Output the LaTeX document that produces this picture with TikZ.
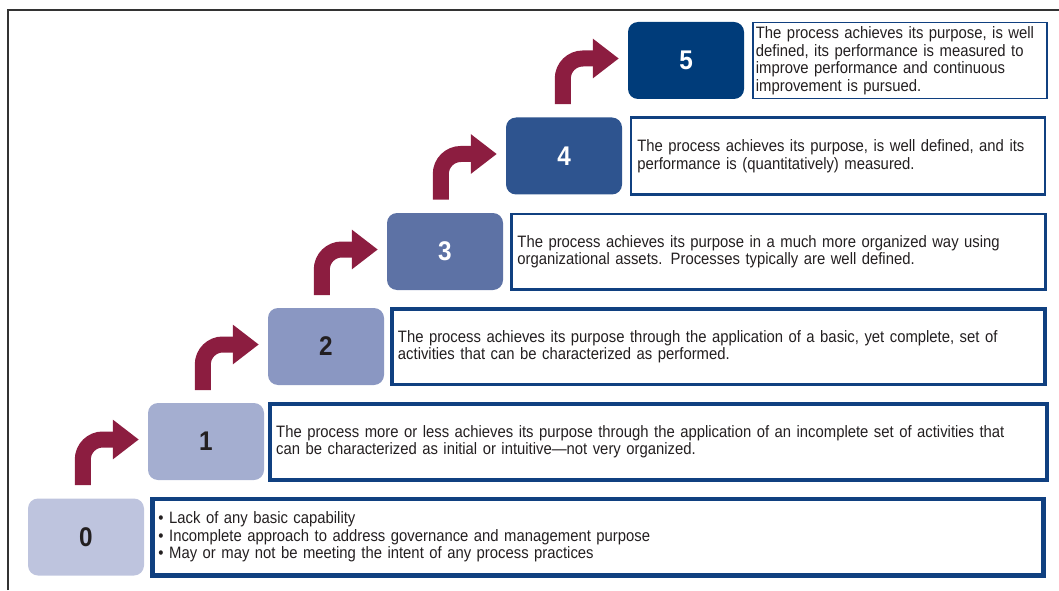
\documentclass[tikz,border=0pt]{standalone}
\usepackage{fontspec}
\setmainfont{Liberation Sans}[FakeStretch=0.9]
\usepackage{xcolor}
\usetikzlibrary{positioning,arrows.meta}

\definecolor{lvlzero}{RGB}{190,196,222}
\definecolor{lvlone}{RGB}{164,174,208}
\definecolor{lvltwo}{RGB}{138,151,194}
\definecolor{lvlthree}{RGB}{93,114,165}
\definecolor{lvlfour}{RGB}{46,84,143}
\definecolor{lvlfive}{RGB}{0,60,122}
\definecolor{frameblue}{RGB}{16,64,128}
\definecolor{riserred}{RGB}{140,29,64}
\definecolor{inkgray}{RGB}{35,31,32}

\tikzset{
  level/.style={rounded corners=10pt, minimum width=116pt, minimum height=77pt,
    font=\fontsize{27}{27}\selectfont\bfseries},
  desc/.style={draw=frameblue, align=left, inner xsep=6pt, text=inkgray,
    font=\fontsize{16.5}{17.5}\selectfont},
  riser/.style={riserred, line width=16pt, rounded corners=20pt, shorten >=9pt,
    -{Triangle[length=26pt,width=38pt]}}
}

\begin{document}
\begin{tikzpicture}[x=1pt,y=1pt]
        \useasboundingbox (0,0) rectangle (1059,590);
        \draw[black!80, line width=2pt] (8,0) |- (1059,580);

        % steps
        \node[level, fill=lvlzero, text=inkgray] (s0) at (86,53) {0};
        \node[level, fill=lvlone, text=inkgray] (s1) at (206,148.5) {1};
        \node[level, fill=lvltwo, text=inkgray] (s2) at (326,243.5) {2};
        \node[level, fill=lvlthree, text=white] (s3) at (445,338.5) {3};
        \node[level, fill=lvlfour, text=white] (s4) at (564,434) {4};
        \node[level, fill=lvlfive, text=white] (s5) at (686,529.5) {5};

        % descriptions
        \node[desc, line width=4.5pt, text width=879pt, minimum height=76.5pt, right=6pt of s0] (d0)
            {\textbullet\ Lack of any basic capability\\
             \textbullet\ Incomplete approach to address governance and management purpose\\
             \textbullet\ May or may not be meeting the intent of any process practices};
        \node[desc, line width=4pt, text width=765pt, minimum height=76pt, right=4pt of s1] (d1)
            {The process more or less achieves its purpose through the application of an incomplete set of activities that\\
             can be characterized as initial or intuitive—not very organized.};
        \node[desc, line width=3.5pt, text width=641pt, minimum height=75.5pt, right=6pt of s2] (d2)
            {The process achieves its purpose through the application of a basic, yet complete, set of\\
             activities that can be characterized as performed.};
        \node[desc, line width=2.5pt, text width=522pt, minimum height=75.5pt, right=7pt of s3] (d3)
            {The process achieves its purpose in a much more organized way using\\
             organizational assets. Processes typically are well defined.};
        \node[desc, line width=2.2pt, text width=402pt, minimum height=77pt, right=8pt of s4] (d4)
            {The process achieves its purpose, is well defined, and its\\
             performance is (quantitatively) measured.};
        \node[desc, line width=1.4pt, inner xsep=3pt, text width=288pt, minimum height=75.6pt, right=8pt of s5] (d5)
            {The process achieves its purpose, is well\\
             defined, its performance is measured to\\
             improve performance and continuous\\
             improvement is pursued.};

        % risers
        \foreach \n in {1,...,5} {
            \coordinate (foot\n) at ([xshift=-65pt,yshift=-5pt]s\n.south west);
            \draw[riser] (foot\n) |- ([yshift=2pt]s\n.west);
        }
    \end{tikzpicture}
\end{document}
